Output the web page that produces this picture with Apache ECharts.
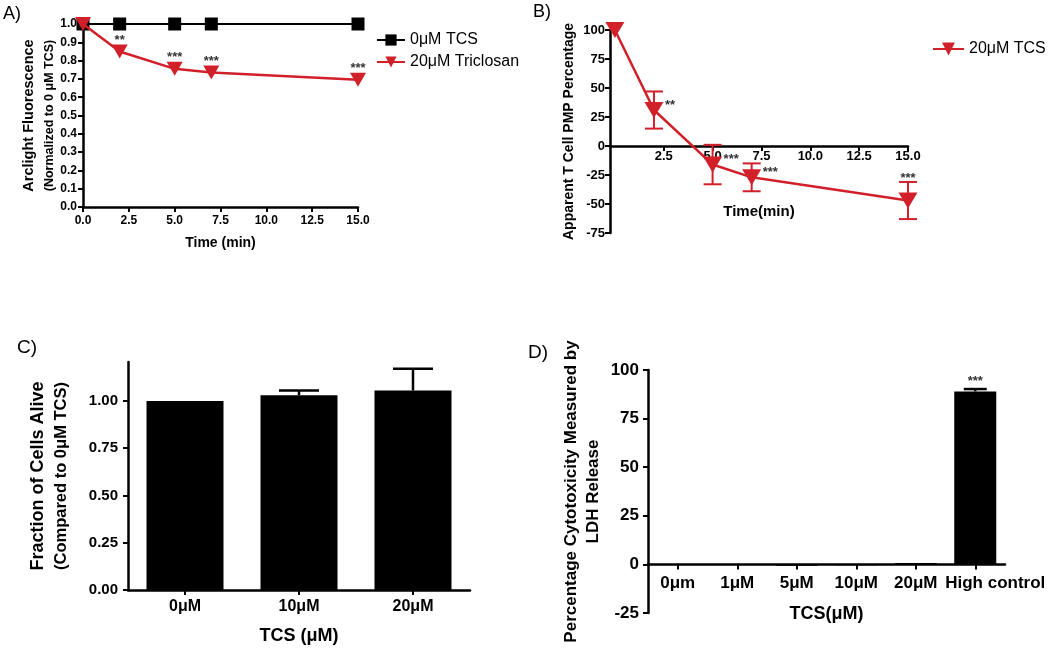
<!DOCTYPE html>
<html><head><meta charset="utf-8">
<script src="https://cdn.jsdelivr.net/npm/echarts@6/dist/echarts.min.js"></script>
<style>html,body{margin:0;padding:0;background:#fff}#c{width:1050px;height:649px}</style>
</head><body><div id="c"></div>
<script>
const FONT = '"Liberation Sans", Arial, Helvetica, sans-serif';
const RED = '#d2202a';

// Panel A
const timeA = [0, 2, 5, 7, 15];
const controlA = [1, 1, 1, 1, 1];
const triclosanA = [1.0, 0.85, 0.755, 0.735, 0.695];
const sigA = ['', '**', '***', '***', '***'];
// Panel B
const timeB = [0, 2, 5, 7, 15];
const meanB = [100, 31, -16, -27, -47];
const semB = [0, 16, 17, 12, 16];
const sigB = ['', '**', '***', '***', '***'];
const xTicksB = [2.5, 5, 7.5, 10, 12.5, 15];
// Panel C
const catsC = ['0μM', '10μM', '20μM'];
const aliveC = [1.0, 1.03, 1.055];
const semC = [0, 0.025, 0.115];
const yTicksC = [0, 0.25, 0.5, 0.75, 1.0];
// Panel D
const catsD = ['0μm', '1μM', '5μM', '10μM', '20μM', 'High control'];
const ldhD = [0, 0.2, -0.7, -0.5, 0.7, 89];
const semD = [0, 0, 0, 0, 0, 1.2];
const sigD = ['', '', '', '', '', '***'];

const chart = echarts.init(document.getElementById('c'), null, {renderer: 'canvas'});

// grid boxes (layout only)
const G = [
  {left: 83, top: 24, width: 275, height: 183},
  {left: 610, top: 30, width: 298, height: 203},
  {left: 128, top: 362, width: 342, height: 228},
  {left: 648, top: 370, width: 357, height: 243}
];
// offset that moves a bottom x axis up to the zero line of a value y axis
function zeroOffset(g, min, max) {
  return -(g.height * (0 - min) / (max - min));
}

function axisBase(fontSize, margin) {
  return {
    axisLine: {show: true, onZero: false, lineStyle: {color: '#000', width: 2.5}},
    axisTick: {show: true, inside: false, length: 5, lineStyle: {color: '#000', width: 2}},
    axisLabel: {color: '#000', fontWeight: 'bold', fontSize: fontSize, fontFamily: FONT, margin: margin},
    splitLine: {show: false},
    nameLocation: 'middle'
  };
}
function nameStyle(size) {
  return {color: '#000', fontWeight: 'bold', fontSize: size, fontFamily: FONT};
}

function errRender(color, capW, lw, both) {
  return function (params, api) {
    const x = api.value(0), y = api.value(1), e = api.value(2);
    if (!e) return null;
    const top = api.coord([x, y + e]);
    const mid = api.coord([x, y]);
    const bot = api.coord([x, y - e]);
    const style = {stroke: color, lineWidth: lw, fill: null};
    const children = [
      {type: 'line', shape: {x1: top[0], y1: top[1], x2: top[0], y2: both ? bot[1] : mid[1]}, style: style},
      {type: 'line', shape: {x1: top[0] - capW / 2, y1: top[1], x2: top[0] + capW / 2, y2: top[1]}, style: style}
    ];
    if (both) children.push({type: 'line', shape: {x1: bot[0] - capW / 2, y1: bot[1], x2: bot[0] + capW / 2, y2: bot[1]}, style: style});
    return {type: 'group', children: children};
  };
}
function starText(t, x, y, align) {
  return {type: 'text', x: x, y: y, style: {text: t, fill: '#333', font: 'bold 13px ' + FONT, align: align || 'center', verticalAlign: 'middle'}};
}

// last D label sits shifted right in the original figure
const catsDAxis = catsD.map((c, i) => i === catsD.length - 1
  ? {value: c, textStyle: {padding: [0, 0, 0, 40]}} : c);

const option = {
  animation: false,
  backgroundColor: '#fff',
  textStyle: {fontFamily: FONT},
  graphic: [
    {type: 'text', left: 3, top: 5, style: {text: 'A)', fill: '#000', font: '18px ' + FONT}},
    {type: 'text', left: 533, top: 3, style: {text: 'B)', fill: '#000', font: '18px ' + FONT}},
    {type: 'text', left: 17, top: 338, style: {text: 'C)', fill: '#000', font: '19px ' + FONT}},
    {type: 'text', left: 528, top: 343, style: {text: 'D)', fill: '#000', font: '19px ' + FONT}}
  ],
  legend: [
    {left: 371, top: 27, orient: 'vertical', itemWidth: 28, itemHeight: 14, itemGap: 6,
     textStyle: {fontSize: 16, color: '#000', fontFamily: FONT}, data: ['0μM TCS', '20μM Triclosan']},
    {left: 927, top: 36, itemWidth: 31, itemHeight: 16,
     textStyle: {fontSize: 16, color: '#000', fontFamily: FONT}, data: ['20μM TCS']}
  ],
  grid: G,
  xAxis: [
    Object.assign(axisBase(12, 8), {
      gridIndex: 0, type: 'value', min: 0, max: 15, interval: 2.5,
      axisLabel: Object.assign(axisBase(12, 8).axisLabel, {formatter: v => v.toFixed(1)}),
      name: 'Time (min)', nameGap: 29, nameTextStyle: nameStyle(14)
    }),
    Object.assign(axisBase(13, 4), {
      gridIndex: 1, type: 'value', min: -0.25, max: 15, offset: zeroOffset(G[1], -75, 100),
      axisLabel: Object.assign(axisBase(13, 4).axisLabel, {customValues: xTicksB, formatter: v => v.toFixed(1)}),
      axisTick: Object.assign(axisBase(13, 4).axisTick, {customValues: xTicksB}),
      name: 'Time(min)', nameGap: 58, nameTextStyle: nameStyle(15)
    }),
    Object.assign(axisBase(16, 9), {
      gridIndex: 2, type: 'category', data: catsC,
      axisTick: Object.assign(axisBase(16, 9).axisTick, {alignWithLabel: true}),
      name: 'TCS (μM)', nameGap: 37, nameTextStyle: nameStyle(18)
    }),
    Object.assign(axisBase(17, 10), {
      gridIndex: 3, type: 'category', data: catsDAxis, offset: zeroOffset(G[3], -25, 100),
      axisLabel: Object.assign(axisBase(17, 10).axisLabel, {interval: 0, hideOverlap: false}),
      axisTick: Object.assign(axisBase(17, 10).axisTick, {alignWithLabel: true, interval: 0}),
      name: 'TCS(μM)', nameGap: 41, nameTextStyle: nameStyle(18)
    })
  ],
  yAxis: [
    Object.assign(axisBase(12, 6), {
      gridIndex: 0, type: 'value', min: 0, max: 1, interval: 0.1,
      axisLabel: Object.assign(axisBase(12, 6).axisLabel, {formatter: v => v.toFixed(1)}),
      name: '{a|Arclight Fluorescence}\n{b|(Normalized to 0 μM TCS)}', nameRotate: 90, nameGap: 23,
      nameTextStyle: {rich: {
        a: {fontSize: 14.5, fontWeight: 'bold', fontFamily: FONT, color: '#000', lineHeight: 22},
        b: {fontSize: 12.5, fontWeight: 'bold', fontFamily: FONT, color: '#000', lineHeight: 20}}}
    }),
    Object.assign(axisBase(13, 5), {
      gridIndex: 1, type: 'value', min: -75, max: 100, interval: 25,
      name: 'Apparent T Cell PMP Percentage', nameRotate: 90, nameGap: 34, nameTextStyle: nameStyle(14)
    }),
    Object.assign(axisBase(15, 10), {
      gridIndex: 2, type: 'value', min: 0, max: 1.206,
      axisLabel: Object.assign(axisBase(15, 10).axisLabel, {customValues: yTicksC, formatter: v => v.toFixed(2)}),
      axisTick: Object.assign(axisBase(15, 10).axisTick, {customValues: yTicksC}),
      name: '{a|Fraction of Cells Alive}\n{b|(Compared to 0μM TCS)}', nameRotate: 90, nameGap: 56,
      nameTextStyle: {rich: {
        a: {fontSize: 18, fontWeight: 'bold', fontFamily: FONT, color: '#000', lineHeight: 24},
        b: {fontSize: 16.5, fontWeight: 'bold', fontFamily: FONT, color: '#000', lineHeight: 22}}}
    }),
    Object.assign(axisBase(17, 9), {
      gridIndex: 3, type: 'value', min: -25, max: 100, interval: 25,
      name: '{a|Percentage Cytotoxicity Measured by}\n{a|LDH Release}', nameRotate: 90, nameGap: 44,
      nameTextStyle: {rich: {
        a: {fontSize: 17, fontWeight: 'bold', fontFamily: FONT, color: '#000', lineHeight: 22}}}
    })
  ],
  series: [
    {name: '0μM TCS', type: 'line', xAxisIndex: 0, yAxisIndex: 0,
     data: timeA.map((t, i) => [t, controlA[i]]),
     symbol: 'rect', symbolSize: 13, itemStyle: {color: '#000'}, lineStyle: {color: '#000', width: 2}, z: 2},
    {name: '20μM Triclosan', type: 'line', xAxisIndex: 0, yAxisIndex: 0,
     data: timeA.map((t, i) => [t, triclosanA[i]]),
     symbol: 'triangle', symbolRotate: 180, symbolSize: [16, 14], itemStyle: {color: RED}, lineStyle: {color: RED, width: 2.5}, z: 3},
    {type: 'custom', xAxisIndex: 0, yAxisIndex: 0, data: timeA.map((t, i) => [t, triclosanA[i]]), z: 4,
     renderItem: (params, api) => {
       const t = sigA[params.dataIndex]; if (!t) return null;
       const p = api.coord([api.value(0), api.value(1)]);
       return starText(t, p[0], p[1] - 11);
     }},
    {name: '20μM TCS', type: 'line', xAxisIndex: 1, yAxisIndex: 1,
     data: timeB.map((t, i) => [t, meanB[i]]),
     symbol: 'triangle', symbolRotate: 180, symbolSize: [19, 16], itemStyle: {color: RED}, lineStyle: {color: RED, width: 2.5}, z: 3},
    {type: 'custom', xAxisIndex: 1, yAxisIndex: 1, data: timeB.map((t, i) => [t, meanB[i], semB[i]]), z: 4,
     renderItem: errRender(RED, 18, 2, true)},
    {type: 'custom', xAxisIndex: 1, yAxisIndex: 1, data: timeB.map((t, i) => [t, meanB[i], semB[i]]), z: 5,
     renderItem: (params, api) => {
       const t = sigB[params.dataIndex]; if (!t) return null;
       if (params.dataIndex === timeB.length - 1) {
         const p = api.coord([api.value(0), api.value(1) + api.value(2)]);
         return starText(t, p[0], p[1] - 4);
       }
       const p = api.coord([api.value(0), api.value(1)]);
       return starText(t, p[0] + 11, p[1] - 5, 'left');
     }},
    {type: 'bar', xAxisIndex: 2, yAxisIndex: 2, data: aliveC, barWidth: 77, itemStyle: {color: '#000'}},
    {type: 'custom', xAxisIndex: 2, yAxisIndex: 2, data: catsC.map((c, i) => [i, aliveC[i], semC[i]]), z: 4,
     renderItem: errRender('#000', 40, 2.5, false)},
    {type: 'bar', xAxisIndex: 3, yAxisIndex: 3, data: ldhD, barWidth: 42, itemStyle: {color: '#000'}},
    {type: 'custom', xAxisIndex: 3, yAxisIndex: 3, data: catsD.map((c, i) => [i, ldhD[i], semD[i]]), z: 4,
     renderItem: errRender('#000', 23, 2.5, false)},
    {type: 'custom', xAxisIndex: 3, yAxisIndex: 3, data: catsD.map((c, i) => [i, ldhD[i], semD[i]]), z: 5,
     renderItem: (params, api) => {
       const t = sigD[params.dataIndex]; if (!t) return null;
       const p = api.coord([api.value(0), api.value(1) + api.value(2)]);
       return starText(t, p[0], p[1] - 8);
     }}
  ]
};
chart.setOption(option);
</script>
</body></html>
